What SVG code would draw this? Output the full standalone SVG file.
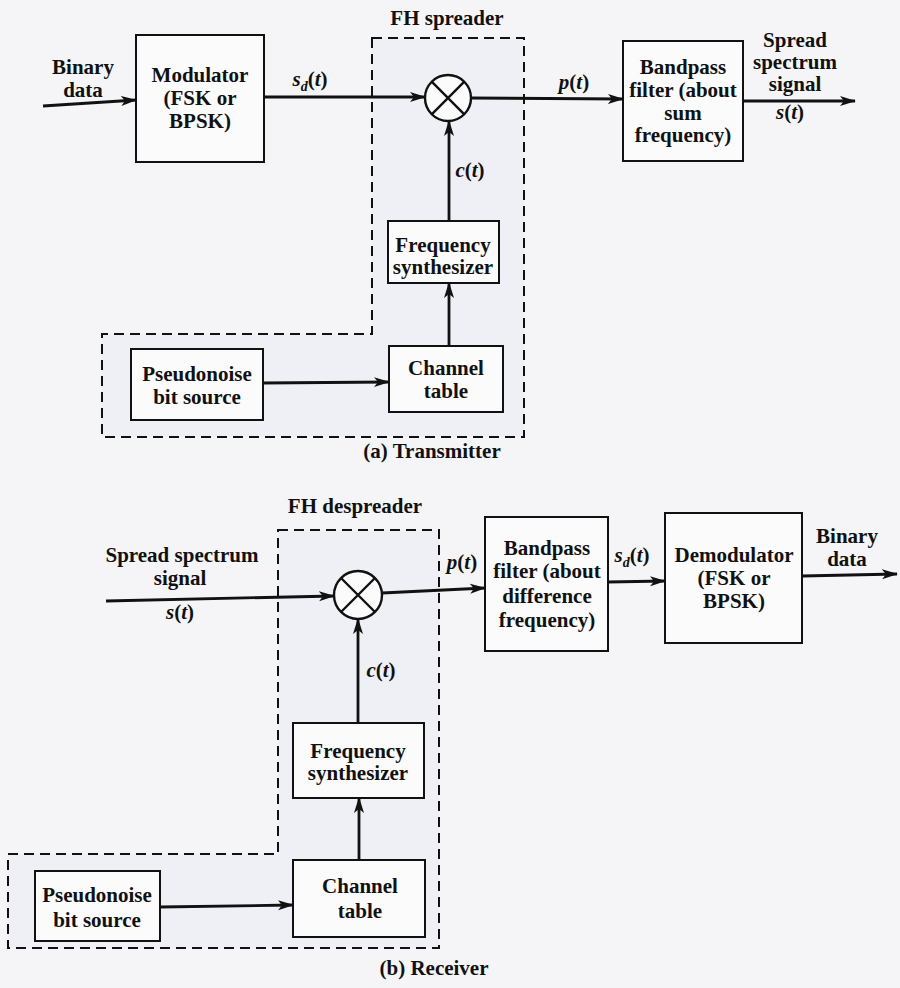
<svg xmlns="http://www.w3.org/2000/svg" width="900" height="988" viewBox="0 0 900 988">
<defs>
<marker id="arr" markerUnits="userSpaceOnUse" markerWidth="16" markerHeight="12" refX="15" refY="6" orient="auto">
<path d="M0,1 L16,6 L0,11 L4,6 Z" fill="#111"/>
</marker>
<style>
text{font-family:"Liberation Serif","Times New Roman",serif;font-weight:bold;font-size:21px;fill:#111;text-anchor:middle}
.box{fill:#fbfbfc;stroke:#111;stroke-width:2}
.dash{fill:#eef0f5;stroke:#111;stroke-width:2;stroke-dasharray:10,6}
.wire{fill:none;stroke:#111;stroke-width:2.8}
.it{font-style:italic}
.mix{fill:#fbfbfc;stroke:#111;stroke-width:2.4}
</style>
</defs>
<rect x="0" y="0" width="900" height="988" fill="#f5f5f7"/>

<!-- Transmitter groups -->
<g id="tx-fh-spreader-region">
<path class="dash" d="M372,38 H524 V437 H102 V334 H372 Z"/>
<text x="447" y="25">FH spreader</text>
</g>
<g id="tx-input-label">
<text x="83" y="74">Binary</text>
<text x="83" y="97">data</text>
</g>
<g id="tx-modulator">
<rect class="box" x="136" y="35" width="128" height="127"/>
<text x="200" y="82">Modulator</text>
<text x="200" y="105">(FSK or</text>
<text x="200" y="128">BPSK)</text>
</g>
<g id="tx-mixer">
<circle class="mix" cx="448" cy="98" r="23"/>
<path d="M431.7,81.7 L464.3,114.3 M464.3,81.7 L431.7,114.3" stroke="#111" stroke-width="2.4"/>
</g>
<g id="tx-bandpass">
<rect class="box" x="623" y="41" width="120" height="120"/>
<text x="683" y="74">Bandpass</text>
<text x="683" y="97">filter (about</text>
<text x="683" y="120">sum</text>
<text x="683" y="142">frequency)</text>
</g>
<g id="tx-output-label">
<text x="795" y="47">Spread</text>
<text x="795" y="69">spectrum</text>
<text x="795" y="91">signal</text>
</g>
<g id="tx-freq-synth">
<rect class="box" x="388" y="221" width="111" height="62"/>
<text x="443" y="252">Frequency</text>
<text x="443" y="274">synthesizer</text>
</g>
<g id="tx-channel-table">
<rect class="box" x="389" y="346" width="114" height="66"/>
<text x="446" y="375">Channel</text>
<text x="446" y="398">table</text>
</g>
<g id="tx-pn-source">
<rect class="box" x="131" y="349" width="132" height="71"/>
<text x="197" y="381">Pseudonoise</text>
<text x="197" y="404">bit source</text>
</g>
<text x="432" y="458">(a) Transmitter</text>

<!-- Receiver groups -->
<g id="rx-fh-despreader-region">
<path class="dash" d="M278,530 H439 V948 H8 V854 H278 Z"/>
<text x="355" y="513">FH despreader</text>
</g>
<g id="rx-input-label">
<text x="182" y="562">Spread spectrum</text>
<text x="180" y="585">signal</text>
</g>
<g id="rx-mixer">
<circle class="mix" cx="358" cy="595" r="24"/>
<path d="M341,578 L375,612 M375,578 L341,612" stroke="#111" stroke-width="2.4"/>
</g>
<g id="rx-bandpass">
<rect class="box" x="485" y="517" width="123" height="134"/>
<text x="547" y="555">Bandpass</text>
<text x="547" y="578">filter (about</text>
<text x="547" y="603">difference</text>
<text x="547" y="627">frequency)</text>
</g>
<g id="rx-demodulator">
<rect class="box" x="665" y="513" width="137" height="130"/>
<text x="734" y="562">Demodulator</text>
<text x="734" y="585">(FSK or</text>
<text x="734" y="608">BPSK)</text>
</g>
<g id="rx-output-label">
<text x="847" y="543">Binary</text>
<text x="847" y="566">data</text>
</g>
<g id="rx-freq-synth">
<rect class="box" x="293" y="723" width="131" height="75"/>
<text x="358" y="758">Frequency</text>
<text x="358" y="780">synthesizer</text>
</g>
<g id="rx-channel-table">
<rect class="box" x="293" y="860" width="132" height="77"/>
<text x="360" y="893">Channel</text>
<text x="360" y="918">table</text>
</g>
<g id="rx-pn-source">
<rect class="box" x="35" y="871" width="125" height="70"/>
<text x="97" y="902">Pseudonoise</text>
<text x="97" y="927">bit source</text>
</g>
<text x="434" y="975">(b) Receiver</text>

<!-- Connectors -->
<g id="connectors">
<line class="wire" x1="43" y1="106" x2="136" y2="100" marker-end="url(#arr)"/>
<line class="wire" x1="264" y1="97" x2="425" y2="97" marker-end="url(#arr)"/>
<line class="wire" x1="471" y1="98" x2="623" y2="99" marker-end="url(#arr)"/>
<line class="wire" x1="743" y1="101" x2="855" y2="101" marker-end="url(#arr)"/>
<line class="wire" x1="449" y1="221" x2="449" y2="121" marker-end="url(#arr)"/>
<line class="wire" x1="449" y1="346" x2="449" y2="283" marker-end="url(#arr)"/>
<line class="wire" x1="263" y1="383" x2="389" y2="382" marker-end="url(#arr)"/>

<line class="wire" x1="106" y1="601" x2="334" y2="596" marker-end="url(#arr)"/>
<line class="wire" x1="382" y1="593" x2="485" y2="588" marker-end="url(#arr)"/>
<line class="wire" x1="608" y1="582" x2="665" y2="581" marker-end="url(#arr)"/>
<line class="wire" x1="802" y1="576" x2="897" y2="574" marker-end="url(#arr)"/>
<line class="wire" x1="358" y1="723" x2="358" y2="619" marker-end="url(#arr)"/>
<line class="wire" x1="359" y1="860" x2="359" y2="798" marker-end="url(#arr)"/>
<line class="wire" x1="160" y1="907" x2="293" y2="905" marker-end="url(#arr)"/>
</g>

<!-- Signal labels -->
<g id="signal-labels">
<text x="310" y="86"><tspan class="it">s</tspan><tspan class="it" font-size="14" dy="5">d</tspan><tspan dy="-5">(</tspan><tspan class="it">t</tspan>)</text>
<text x="574" y="89"><tspan class="it">p</tspan>(<tspan class="it">t</tspan>)</text>
<text x="790" y="119"><tspan class="it">s</tspan>(<tspan class="it">t</tspan>)</text>
<text x="470" y="177"><tspan class="it">c</tspan>(<tspan class="it">t</tspan>)</text>
<text x="180" y="619"><tspan class="it">s</tspan>(<tspan class="it">t</tspan>)</text>
<text x="381" y="677"><tspan class="it">c</tspan>(<tspan class="it">t</tspan>)</text>
<text x="462" y="569"><tspan class="it">p</tspan>(<tspan class="it">t</tspan>)</text>
<text x="632" y="562"><tspan class="it">s</tspan><tspan class="it" font-size="14" dy="5">d</tspan><tspan dy="-5">(</tspan><tspan class="it">t</tspan>)</text>
</g>
</svg>
